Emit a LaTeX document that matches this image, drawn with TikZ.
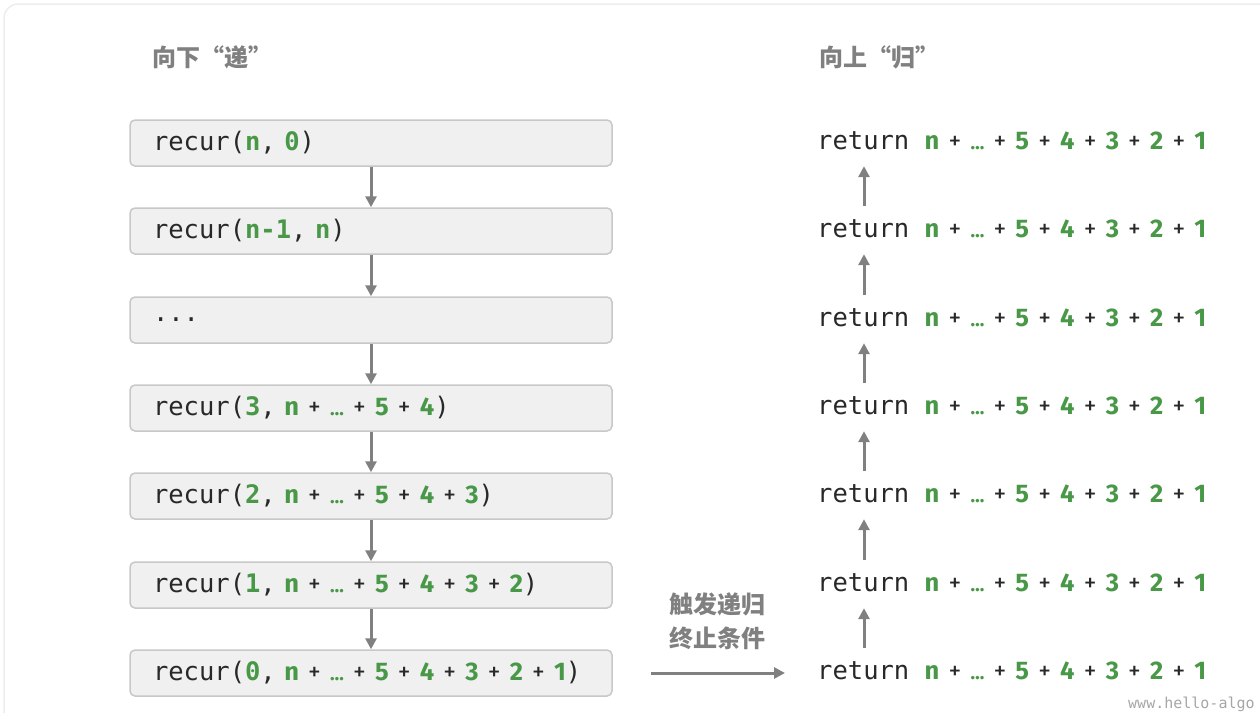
\documentclass[tikz,border=0pt]{standalone}
\usepackage{fontspec}
\setmainfont{Fira Sans}
\setmonofont{DejaVu Sans Mono}
\newfontfamily\cjk{Noto Sans CJK SC}
\usetikzlibrary{arrows.meta}
\definecolor{grn}{RGB}{72,152,72}
\definecolor{ink}{RGB}{40,40,40}
\definecolor{arrgray}{RGB}{128,128,128}
\definecolor{boxfill}{RGB}{240,240,240}
\definecolor{boxline}{RGB}{200,200,200}
\newcommand\gm[1]{\textcolor{grn}{\ttfamily\bfseries #1}}
\newcommand\gs[1]{\textcolor{grn}{\bfseries #1}}
\newcommand\pl{\hspace{9.2pt}{+}\hspace{9.2pt}}
\newcommand\myell{\textcolor{grn}{\bfseries\fontsize{19}{20}\selectfont …}}
\newcommand\expr[1]{\gs{n}\pl\myell\pl\gs{5}\pl\gs{4}#1}
\begin{document}
\begin{tikzpicture}[x=1pt,y=-1pt,
  callbox/.style={draw=boxline, fill=boxfill, line width=1.5pt, rounded corners=5pt,
    minimum width=482pt, minimum height=46pt, text width=436pt, inner xsep=23pt,
    align=left, font=\fontsize{25.5}{28}\selectfont, text=ink},
  retnode/.style={anchor=west, inner sep=0pt, text height=17pt, text depth=5pt,
    font=\fontsize{25.5}{28}\selectfont, text=ink},
  title/.style={font=\cjk\bfseries\fontsize{24}{28}\selectfont, text=arrgray, anchor=west, inner sep=0pt},
  arr/.style={draw=arrgray, line width=3pt, -{Triangle[length=11pt,width=11pt]}}
]
\useasboundingbox (0,0) rectangle (1260,712);
\begin{scope}
\clip (0,0) rectangle (1260,712);
\draw[black!7, line width=1.5pt, rounded corners=14pt] (4,4) rectangle (1320,780);
\end{scope}
\node[anchor=base west, inner sep=0pt, text=black!35, font=\ttfamily\fontsize{15}{18}\selectfont] (wm) at (1128,708) {www.hello-algo};

\node[title] (tl) at (152,57) {向下“递”};
\node[title] (tr) at (819,57) {向上“归”};

\node[callbox] (b1) at (371,143) {\texttt{recur(}\gm{n}\texttt{, }\gm{0}\texttt{)}};
\node[callbox] (b2) at (371,231) {\texttt{recur(}\gm{n-1}\texttt{, }\gm{n}\texttt{)}};
\node[callbox] (b3) at (371,320) {\texttt{...}};
\node[callbox] (b4) at (371,408) {\texttt{recur(}\gm{3}\texttt{, }\expr{}\texttt{)}};
\node[callbox] (b5) at (371,496) {\texttt{recur(}\gm{2}\texttt{, }\expr{\pl\gs{3}}\texttt{)}};
\node[callbox] (b6) at (371,585) {\texttt{recur(}\gm{1}\texttt{, }\expr{\pl\gs{3}\pl\gs{2}}\texttt{)}};
\node[callbox] (b7) at (371,673) {\texttt{recur(}\gm{0}\texttt{, }\expr{\pl\gs{3}\pl\gs{2}\pl\gs{1}}\texttt{)}};

\foreach \a/\b in {b1/b2,b2/b3,b3/b4,b4/b5,b5/b6,b6/b7}
  \draw[arr] (\a.south) -- (\b.north);

\foreach \i/\y in {1/143,2/231,3/320,4/408,5/496,6/585,7/673}
  \node[retnode] (r\i) at (817,\y) {\texttt{return }\expr{\pl\gs{3}\pl\gs{2}\pl\gs{1}}};

\foreach \a/\b in {r2/r1,r3/r2,r4/r3,r5/r4,r6/r5,r7/r6}
  \draw[arr, shorten <=14pt, shorten >=12pt] ([xshift=47pt]\a.north west) -- ([xshift=47pt]\b.south west);

\draw[arr, shorten <=38pt, shorten >=32pt] (b7.east) -- (r7.west);
\node[font=\cjk\bfseries\fontsize{24}{34}\selectfont, text=arrgray, align=center] (lbl) at (717,621) {触发递归\\终止条件};
\end{tikzpicture}
\end{document}
